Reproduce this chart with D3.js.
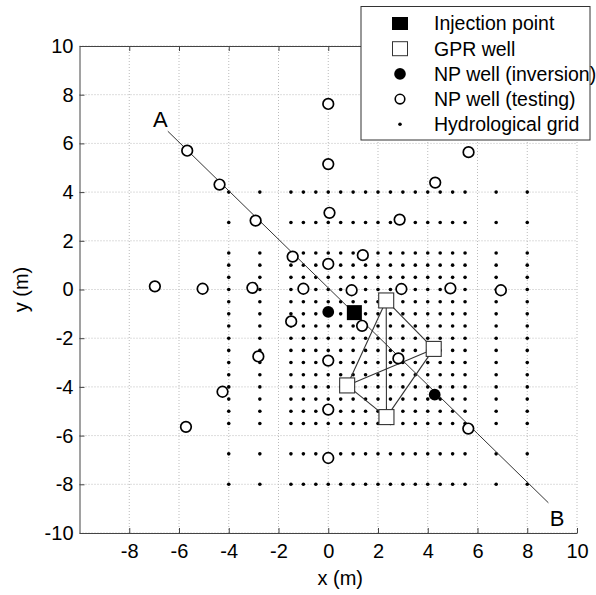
<!DOCTYPE html>
<html>
<head>
<meta charset="utf-8">
<script src="https://cdn.jsdelivr.net/npm/d3@7"></script>
<style>
  body { margin: 0; background: #fff; }
  text { font-family: "Liberation Sans", Arial, sans-serif; }
</style>
</head>
<body>
<div id="chart"></div>
<script>
// ---- data ----
const xTicks = [-8, -6, -4, -2, 0, 2, 4, 6, 8, 10];
const yTicks = [-10, -8, -6, -4, -2, 0, 2, 4, 6, 8, 10];

// hydrological grid node coordinates
const gridX = [-4, -2.75, -1.5, -1, -0.5, 0, 0.5, 1, 1.5, 2, 2.5, 3, 3.5, 4, 4.5, 5, 5.5, 6.75, 8];
const gridY = [-8, -6.75, -5.5, -5, -4.5, -4, -3.5, -3, -2.5, -2, -1.5, -1, -0.5, 0, 0.5, 1, 1.5, 2.75, 4];

const injection = [[1.05, -0.95]];
const gprWells = [[2.33, -0.45], [4.24, -2.44], [0.76, -3.94], [2.34, -5.24]];
const gprLinks = [[0, 1], [0, 2], [0, 3], [1, 2], [1, 3], [2, 3]];
const npInversion = [[0, -0.92], [4.28, -4.32]];
const npTesting = [
  [-6.97, 0.13], [-5.05, 0.03], [-3.05, 0.07], [-1.0, 0.03], [0.94, -0.03], [2.94, 0.02], [4.91, 0.05], [6.94, -0.03],
  [0, 7.62], [0, 5.15], [0.05, 3.15], [0, 1.05], [0, -2.92], [0, -4.93], [0, -6.92],
  [-5.67, 5.7], [-4.37, 4.31], [-2.92, 2.83], [-1.43, 1.35],
  [1.39, 1.41], [2.87, 2.87], [4.3, 4.39], [5.64, 5.64],
  [-1.49, -1.31], [-2.81, -2.75], [-4.25, -4.2], [-5.72, -5.64],
  [1.36, -1.49], [2.82, -2.83], [5.63, -5.71]
];
const sectionLine = [[-6.45, 6.5], [8.85, -8.76]];
const sectionLabels = [["A", -6.75, 7.0], ["B", 9.2, -9.4]];
const legendItems = ["Injection point", "GPR well", "NP well (inversion)", "NP well (testing)", "Hydrological grid"];

// ---- layout ----
const margin = { top: 46, right: 19, bottom: 62, left: 79.5 };
const W = 596, H = 595;
const width = W - margin.left - margin.right;
const height = H - margin.top - margin.bottom;

const svg = d3.select("#chart").append("svg")
  .attr("width", W).attr("height", H);
const g = svg.append("g").attr("transform", `translate(${margin.left},${margin.top})`);

const x = d3.scaleLinear().domain([-10, 10]).range([0, width]);
const y = d3.scaleLinear().domain([-10, 10]).range([height, 0]);

// dotted grid
g.append("g").selectAll("line").data(xTicks).enter().append("line")
  .attr("x1", d => x(d)).attr("x2", d => x(d)).attr("y1", 0).attr("y2", height)
  .attr("stroke", "#bbb").attr("stroke-dasharray", "1,2");
g.append("g").selectAll("line").data(yTicks).enter().append("line")
  .attr("x1", 0).attr("x2", width).attr("y1", d => y(d)).attr("y2", d => y(d))
  .attr("stroke", "#bbb").attr("stroke-dasharray", "1,2");

// axes (plain hyphen minus like the original)
const fmt = d => String(d);
const xAxis = g.append("g").attr("transform", `translate(0,${height})`)
  .call(d3.axisBottom(x).tickValues(xTicks).tickFormat(fmt).tickSizeInner(-5).tickSizeOuter(0).tickPadding(11));
const xTop = g.append("g")
  .call(d3.axisTop(x).tickValues(xTicks).tickSizeInner(-5).tickSizeOuter(0).tickFormat(""));
const yAxis = g.append("g")
  .call(d3.axisLeft(y).tickValues(yTicks).tickFormat(fmt).tickSizeInner(-5).tickSizeOuter(0).tickPadding(6));
[xAxis, xTop, yAxis].forEach(a => {
  a.select(".domain").attr("stroke", "#444");
  a.selectAll(".tick line").attr("stroke", "#444");
  a.selectAll("text").style("font-size", "20px").attr("fill", "#000");
});

// hydrological grid nodes
const nodes = [];
gridX.forEach(gx => gridY.forEach(gy => nodes.push([gx, gy])));
g.append("g").selectAll("circle").data(nodes).enter().append("circle")
  .attr("cx", d => x(d[0])).attr("cy", d => y(d[1])).attr("r", 1.8).attr("fill", "#000");

// section line A-B
g.append("path").datum(sectionLine)
  .attr("d", d3.line().x(d => x(d[0])).y(d => y(d[1])))
  .attr("fill", "none").attr("stroke", "#333").attr("stroke-width", 1);

// GPR well connections
g.append("g").selectAll("line").data(gprLinks).enter().append("line")
  .attr("x1", d => x(gprWells[d[0]][0])).attr("y1", d => y(gprWells[d[0]][1]))
  .attr("x2", d => x(gprWells[d[1]][0])).attr("y2", d => y(gprWells[d[1]][1]))
  .attr("stroke", "#333").attr("stroke-width", 1.1);

// NP testing wells
g.append("g").selectAll("circle").data(npTesting).enter().append("circle")
  .attr("cx", d => x(d[0])).attr("cy", d => y(d[1])).attr("r", 5.3)
  .attr("fill", "#fff").attr("stroke", "#000").attr("stroke-width", 1.7);

// NP inversion wells
g.append("g").selectAll("circle").data(npInversion).enter().append("circle")
  .attr("cx", d => x(d[0])).attr("cy", d => y(d[1])).attr("r", 5.9).attr("fill", "#000");

// GPR wells
g.append("g").selectAll("rect").data(gprWells).enter().append("rect")
  .attr("x", d => x(d[0]) - 7.5).attr("y", d => y(d[1]) - 7.5)
  .attr("width", 15).attr("height", 15)
  .attr("fill", "#fff").attr("stroke", "#333").attr("stroke-width", 1.1);

// injection point
g.append("g").selectAll("rect").data(injection).enter().append("rect")
  .attr("x", d => x(d[0]) - 7.5).attr("y", d => y(d[1]) - 7.5)
  .attr("width", 15).attr("height", 15).attr("fill", "#000");

// A / B labels
g.append("g").selectAll("text").data(sectionLabels).enter().append("text")
  .attr("x", d => x(d[1])).attr("y", d => y(d[2]))
  .attr("text-anchor", "middle").attr("dy", "0.36em")
  .style("font-size", "22px").text(d => d[0]);

// axis labels
svg.append("text")
  .attr("x", margin.left + width / 2 + 12).attr("y", 585)
  .attr("text-anchor", "middle").style("font-size", "20px").text("x (m)");
svg.append("text")
  .attr("transform", `translate(28,${margin.top + y(0)}) rotate(-90)`)
  .attr("text-anchor", "middle").style("font-size", "20px").text("y (m)");

// legend
const lg = svg.append("g").attr("transform", "translate(361,6.5)");
lg.append("rect").attr("width", 229).attr("height", 133.5)
  .attr("fill", "#fff").attr("stroke", "#333").attr("stroke-width", 1);
const rowY = i => 17 + i * 25.2;
const mx = 39;
lg.append("rect").attr("x", mx - 8).attr("y", rowY(0) - 6.5).attr("width", 16).attr("height", 13).attr("fill", "#000");
lg.append("rect").attr("x", mx - 7.5).attr("y", rowY(1) - 7).attr("width", 15).attr("height", 14)
  .attr("fill", "#fff").attr("stroke", "#333");
lg.append("circle").attr("cx", mx).attr("cy", rowY(2)).attr("r", 5.8).attr("fill", "#000");
lg.append("circle").attr("cx", mx).attr("cy", rowY(3)).attr("r", 4.8)
  .attr("fill", "#fff").attr("stroke", "#000").attr("stroke-width", 1.6);
lg.append("circle").attr("cx", mx).attr("cy", rowY(4)).attr("r", 1.8).attr("fill", "#000");
lg.selectAll("text.item").data(legendItems).enter().append("text")
  .attr("class", "item")
  .attr("x", 73).attr("y", (d, i) => rowY(i)).attr("dy", "0.35em")
  .style("font-size", "19.5px").text(d => d);
</script>
</body>
</html>
